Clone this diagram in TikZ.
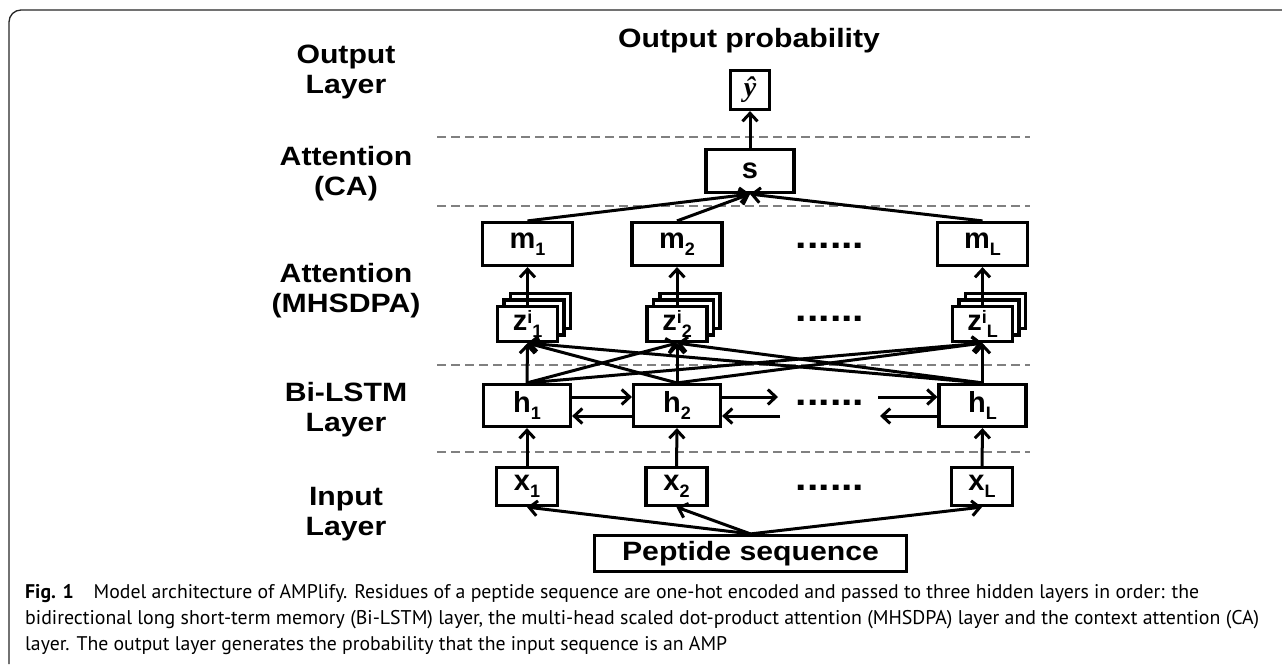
\documentclass[tikz,border=0pt]{standalone}
\usepackage{fontspec}
\usepackage{graphicx}
\usetikzlibrary{arrows.meta}
\newfontfamily\lab{Liberation Sans}[FakeStretch=1.14]
\newfontfamily\bxf{Liberation Sans}
\newfontfamily\serf{Liberation Serif}
\newfontfamily\capf{PT Sans}
\newcommand\lsub[1]{\raisebox{-7pt}{\fontsize{18}{18}\selectfont #1}}
\newcommand\lsup[1]{\raisebox{7pt}{\fontsize{18}{18}\selectfont #1}}
\begin{document}
\begin{tikzpicture}[x=1pt,y=-1pt,
  big/.style={font=\lab\bfseries\fontsize{26.5}{30}\selectfont},
  lbl/.style={big, align=center, inner sep=0pt},
  box/.style={font=\bxf\bfseries\fontsize{29}{30}\selectfont, draw, line width=3.2pt, fill=white, inner sep=0pt},
  ybox/.style={box, minimum width=39pt, minimum height=39pt},
  sbox/.style={box, minimum width=88pt, minimum height=43pt},
  mbox/.style={box, minimum width=90pt, minimum height=43pt},
  zbox/.style={box, minimum width=60pt, minimum height=35pt},
  hbox/.style={box, minimum width=87pt, minimum height=42pt},
  xbox/.style={box, minimum width=61pt, minimum height=38pt},
  pbox/.style={box, big, minimum width=312pt, minimum height=36pt},
  arr/.style={line width=3pt, -{Straight Barb[length=8pt,width=15pt]}},
  sep/.style={draw=black!50, line width=2pt, dash pattern=on 9pt off 5pt},
  dotrow/.style={font=\lab\bfseries\fontsize{36}{36}\selectfont, inner sep=0pt},
  capline/.style={anchor=base west, inner sep=0pt, font=\capf\fontsize{19}{23}\selectfont}
]
\useasboundingbox (0,0) rectangle (1282,664);
% frame
\draw[line width=1.3pt, black!85, rounded corners=12pt] (9,664) -- (9,10) -- (1282,10);

% separators
\coordinate (d1a) at (437,137); \coordinate (d1b) at (1030,137);
\coordinate (d2a) at (437,206); \coordinate (d2b) at (1030,206);
\coordinate (d3a) at (437,365); \coordinate (d3b) at (1030,365);
\coordinate (d4a) at (437,452); \coordinate (d4b) at (1030,452);
\draw[sep] (d1a) -- (d1b);
\draw[sep] (d2a) -- (d2b);
\draw[sep] (d3a) -- (d3b);
\draw[sep] (d4a) -- (d4b);

% layer labels
\node[lbl] (lout) at (346,72) {Output\\Layer};
\node[lbl] (lca) at (346,174) {Attention\\(CA)};
\node[lbl] (lmh) at (346,291) {Attention\\(MHSDPA)};
\node[lbl] (lbi) at (346,410) {Bi-LSTM\\Layer};
\node[lbl] (lin) at (346,514) {Input\\Layer};

% title
\node[big, anchor=base, inner sep=0pt] (title) at (749,47) {Output probability};

% output / CA
\node[ybox] (yh) at (750,90) {\serf\itshape\fontsize{28}{28}\selectfont ŷ};
\node[sbox] (s) at (750,171) {s};

% m row
\node[mbox] (m1) at (527.5,244) {m\lsub{1}};
\node[mbox] (m2) at (677,244) {m\lsub{2}};
\node[mbox] (mL) at (982.5,244) {m\lsub{L}};
\node[dotrow] (dm) at (830,246) {......};

% z stacks
\foreach \c/\n in {527.5/1, 677/2, 982.5/L}{
  \node[zbox] (zc\n) at (\c+13,311) {};
  \node[zbox] (zb\n) at (\c+6.5,317.5) {};
}
\node[zbox] (z1) at (527.5,324) {z\lsup{i}\lsub{1}};
\node[zbox] (z2) at (677,324) {z\lsup{i}\lsub{2}};
\node[zbox] (zL) at (982.5,324) {z\lsup{i}\lsub{L}};
\node[dotrow] (dz) at (830,319) {......};

% h row
\node[hbox] (h1) at (527,405.5) {h\lsub{1}};
\node[hbox] (h2) at (677,405.5) {h\lsub{2}};
\node[hbox] (hL) at (982.5,405.5) {h\lsub{L}};
\node[dotrow] (dh) at (830,403) {......};

% x row
\node[xbox] (x1) at (527,486.5) {x\lsub{1}};
\node[xbox] (x2) at (676.5,486.5) {x\lsub{2}};
\node[xbox] (xL) at (982,486.5) {x\lsub{L}};
\node[dotrow] (dx) at (830,488) {......};

% peptide
\node[pbox] (pep) at (750.5,553.5) {Peptide sequence};

% arrows
\draw[arr] (s.north) -- (yh.south);
\draw[arr] (m1.north) -- (s.south);
\draw[arr] (m2.north) -- (s.south);
\draw[arr] (mL.north) -- (s.south);
\draw[arr] (z1.north) -- (m1.south);
\draw[arr] (z2.north) -- (m2.south);
\draw[arr] (zL.north) -- (mL.south);
\foreach \a in {h1,h2,hL}{
  \foreach \b in {z1,z2,zL}{
    \draw[arr] (\a.north) -- (\b.south);
  }
}
\draw[arr] (x1.north) -- (h1.south);
\draw[arr] (x2.north) -- (h2.south);
\draw[arr] (xL.north) -- (hL.south);
\draw[arr] (pep.north) -- (x1.south);
\draw[arr] (pep.north) -- (x2.south);
\draw[arr] (pep.north) -- (xL.south);

\coordinate (a1) at (778,397);
\coordinate (a2) at (780,416);
\coordinate (a3) at (878,397);
\coordinate (a4) at (880,416);
\draw[arr] ([yshift=8.5pt]h1.east) -- ([yshift=8.5pt]h2.west);
\draw[arr] ([yshift=-10.5pt]h2.west) -- ([yshift=-10.5pt]h1.east);
\draw[arr] ([yshift=8.5pt]h2.east) -- (a1);
\draw[arr] (a2) -- ([yshift=-10.5pt]h2.east);
\draw[arr] (a3) -- ([yshift=8.5pt]hL.west);
\draw[arr] ([yshift=-10.5pt]hL.west) -- (a4);

% caption
\node[capline] (c1) at (25,598) {\resizebox{1174pt}{!}{\textbf{Fig. 1}\quad Model architecture of AMPlify. Residues of a peptide sequence are one-hot encoded and passed to three hidden layers in order: the}};
\node[capline] (c2) at (25,624) {\resizebox{1234pt}{!}{bidirectional long short-term memory (Bi-LSTM) layer, the multi-head scaled dot-product attention (MHSDPA) layer and the context attention (CA)}};
\node[capline] (c3) at (25,650) {\resizebox{702pt}{!}{layer. The output layer generates the probability that the input sequence is an AMP}};
\end{tikzpicture}
\end{document}
